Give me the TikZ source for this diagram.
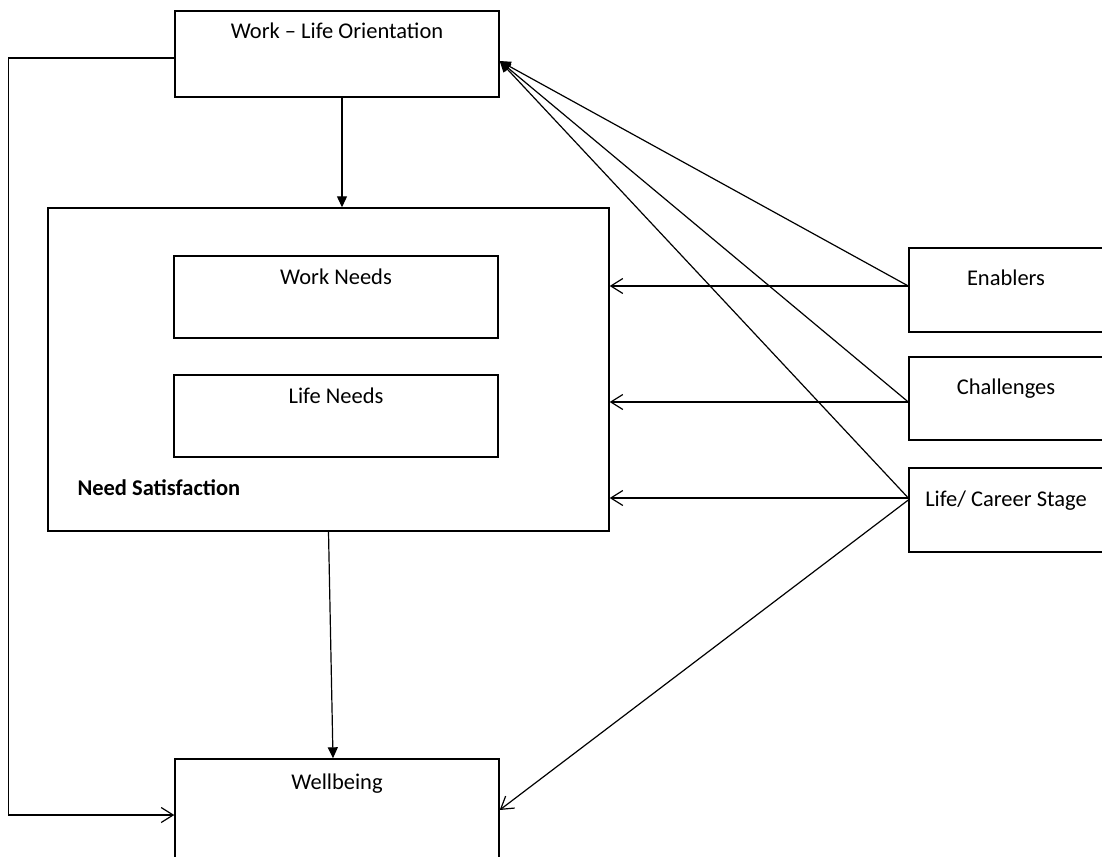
\documentclass[tikz,border=0pt]{standalone}
\usepackage{fontspec}
\setmainfont{Carlito}
\usetikzlibrary{arrows.meta}

\begin{document}
\begin{tikzpicture}[x=1pt, y=-1pt,
box/.style = {rectangle, draw=black, line width=1.4, inner sep=0pt, align=center, font=\fontsize{22.5}{26}\selectfont},
filledtip/.style = {-{Triangle[length=11pt,width=10pt]}, line width=1.2},
opentip/.style = {-{Straight Barb[length=12pt,width=15pt]}, line width=1.2}]
\useasboundingbox (0,0) rectangle (1102,856);
\node[box, minimum width=324, text height=28pt, text depth=58pt] at (337,54) (wlo) {Work -- Life Orientation};
\node[box, minimum width=561, minimum height=323] at (328.5,369.5) (ns) {};
\node[box, minimum width=324, text height=28pt, text depth=54pt] at (336,297) (wn) {Work Needs};
\node[box, minimum width=324, text height=28pt, text depth=54pt] at (336,416) (ln) {Life Needs};
\node[anchor=west, font=\fontsize{22.5}{26}\selectfont\bfseries] at (74,488) (nslabel) {Need Satisfaction};
\node[box, minimum width=324, text height=30pt, text depth=82pt] at (337,815) (wb) {Wellbeing};
\node[box, minimum width=194, text height=37pt, text depth=47pt] at (1006,290) (en) {Enablers};
\node[box, minimum width=194, text height=37pt, text depth=46pt] at (1006,398.5) (ch) {Challenges};
\node[box, minimum width=194, text height=38pt, text depth=46pt] at (1006,510) (lc) {Life/ Career Stage};
\draw [filledtip] (wlo.south -| 342,0) to (ns.north -| 342,0);
\draw [filledtip] (ns.south) to (wb.north -| 333,0);
\draw [opentip] (wlo.west |- 0,58) -- ++(-166,0) |- (wb.west |- 0,815);
\draw [opentip] (en.west |- 0,286) to (ns.east |- 0,286);
\draw [opentip] (ch.west |- 0,402) to (ns.east |- 0,402);
\draw [opentip] (lc.west |- 0,498) to (ns.east |- 0,498);
\draw [filledtip] (en.west |- 0,286) to (wlo.east |- 0,61);
\draw [filledtip] (ch.west |- 0,402) to (wlo.east |- 0,61);
\draw [filledtip] (lc.west |- 0,498) to (wlo.east |- 0,61);
\draw [opentip] (lc.west |- 0,500) to (wb.east |- 0,810);
\end{tikzpicture}
\end{document}
